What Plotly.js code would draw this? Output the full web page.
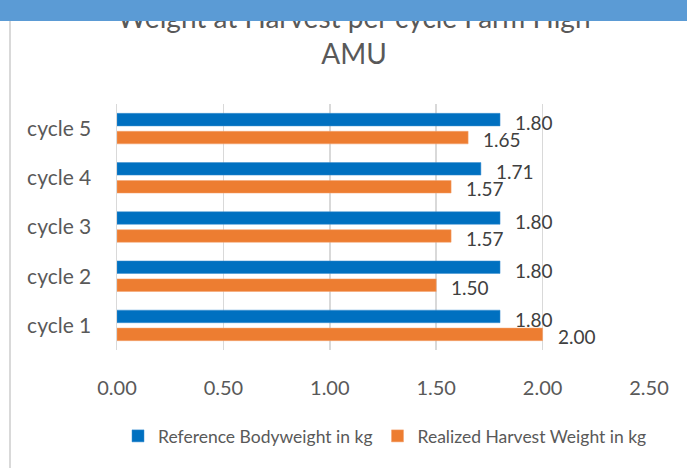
<!DOCTYPE html>
<html>
<head>
<meta charset="utf-8">
<script src="https://cdn.plot.ly/plotly-3.0.1.min.js"></script>
<style>
  html, body { margin: 0; padding: 0; background: #ffffff; }
  #wrap { position: relative; width: 687px; height: 468px; overflow: hidden; }
  #chart { width: 687px; height: 468px; }
  #strip { position: absolute; left: 0; top: 0; width: 687px; height: 21px; background: #5B9BD5; z-index: 10; }
</style>
</head>
<body>
<div id="wrap">
  <div id="chart"></div>
  <div id="strip"></div>
</div>
<script>
const categories = ['cycle 1', 'cycle 2', 'cycle 3', 'cycle 4', 'cycle 5'];
const referenceWeight = [1.80, 1.80, 1.80, 1.71, 1.80];
const realizedWeight = [2.00, 1.50, 1.57, 1.57, 1.65];
const seriesNames = ['Reference Bodyweight in kg', 'Realized Harvest Weight in kg'];
const xTicks = [0, 0.5, 1, 1.5, 2, 2.5];
const xTickLabels = ['0.00', '0.50', '1.00', '1.50', '2.00', '2.50'];
const titleText = 'Weight at Harvest per cycle Farm High<br>AMU';

const FONT = 'Lato, "Open Sans", sans-serif';
const TXT = '#595959';
const BLUE = '#0070C0';
const ORANGE = '#ED7D31';

const traces = [
  {
    type: 'bar', orientation: 'h', name: seriesNames[1],
    y: categories, x: realizedWeight,
    marker: { color: ORANGE, line: { color: '#f4a36e', width: 0.5 } },
    hoverinfo: 'x+name'
  },
  {
    type: 'bar', orientation: 'h', name: seriesNames[0],
    y: categories, x: referenceWeight,
    marker: { color: BLUE, line: { color: '#3b8fd0', width: 0.5 } },
    hoverinfo: 'x+name'
  }
];

const annotations = [];
categories.forEach((c, i) => {
  annotations.push({
    x: referenceWeight[i], y: c, xref: 'x', yref: 'y',
    text: referenceWeight[i].toFixed(2), showarrow: false,
    xanchor: 'left', yanchor: 'middle', xshift: 13, yshift: 6,
    font: { family: FONT, size: 19, color: '#404040' }
  });
  annotations.push({
    x: realizedWeight[i], y: c, xref: 'x', yref: 'y',
    text: realizedWeight[i].toFixed(2), showarrow: false,
    xanchor: 'left', yanchor: 'middle', xshift: 13, yshift: -11,
    font: { family: FONT, size: 19, color: '#404040' }
  });
});

// paper coordinate helpers for decorations (plot area: x 117..649, y 104..350 px)
const px = v => (v - 117) / 532;
const py = v => (350 - v) / 246;

const layout = {
  width: 687, height: 468,
  margin: { l: 117, r: 38, t: 104, b: 118 },
  paper_bgcolor: '#ffffff', plot_bgcolor: '#ffffff',
  font: { family: FONT, color: TXT },
  title: {
    text: titleText,
    font: { family: FONT, size: 28, color: TXT },
    x: 354 / 687, xanchor: 'center', xref: 'container',
    y: 1 - 28 / 468, yanchor: 'middle', yref: 'container'
  },
  barmode: 'group',
  bargap: 0.27,
  bargroupgap: 0.3,
  xaxis: {
    range: [0, 2.5],
    tickvals: xTicks, ticktext: xTickLabels,
    showgrid: true, gridcolor: '#d9d9d9', gridwidth: 1.5,
    zeroline: false, showline: false, ticks: '',
    tickfont: { family: FONT, size: 20, color: TXT },
    ticklabelstandoff: 24,
    fixedrange: true
  },
  yaxis: {
    type: 'category', categoryorder: 'array', categoryarray: categories,
    showgrid: false, zeroline: false, ticks: '',
    showline: true, linecolor: '#d9d9d9', linewidth: 1.5,
    tickfont: { family: FONT, size: 21, color: TXT },
    ticklabelstandoff: 20,
    fixedrange: true
  },
  showlegend: true,
  legend: {
    orientation: 'h', traceorder: 'reversed',
    x: px(118), xanchor: 'left', y: py(436), yanchor: 'middle',
    font: { family: FONT, size: 17.5, color: TXT },
    itemwidth: 30, bgcolor: 'rgba(0,0,0,0)'
  },
  annotations: annotations,
  shapes: [
    { type: 'line', xref: 'paper', yref: 'paper',
      x0: px(10), x1: px(10), y0: py(21), y1: py(470),
      line: { color: '#d9d9d9', width: 2 } }
  ]
};

Plotly.newPlot('chart', traces, layout, { displayModeBar: false, staticPlot: true });
</script>
</body>
</html>
